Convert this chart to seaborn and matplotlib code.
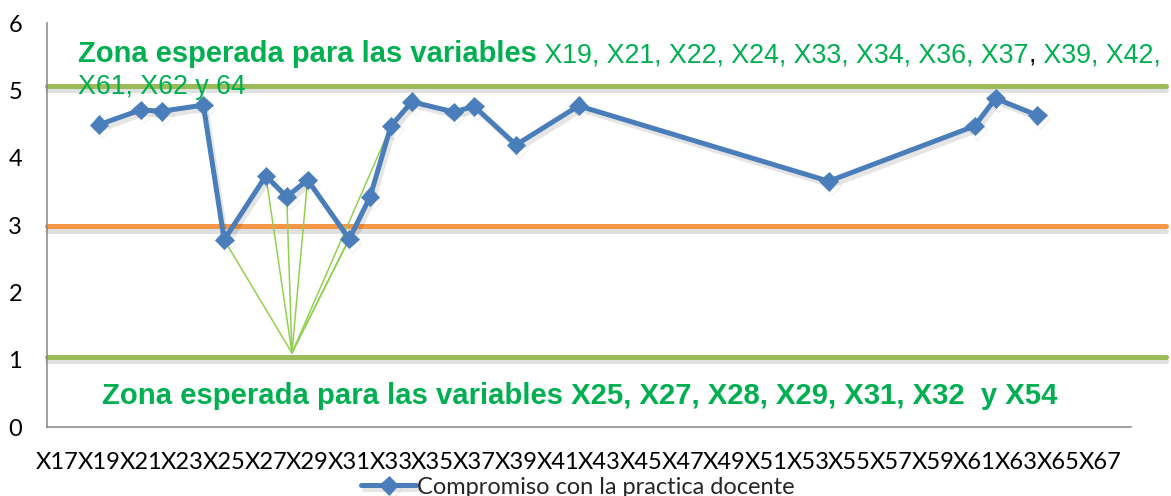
import matplotlib
matplotlib.use("Agg")
import matplotlib.pyplot as plt
import matplotlib.patheffects as pe
import seaborn as sns
import pandas as pd

# ---------------- data ----------------
categories = ["X17", "X18", "X19", "X20", "X21", "X22", "X23", "X24", "X25", "X26",
              "X27", "X28", "X29", "X30", "X31", "X32", "X33", "X34", "X35", "X36",
              "X37", "X38", "X39", "X40", "X41", "X42", "X43", "X44", "X45", "X46",
              "X47", "X48", "X49", "X50", "X51", "X52", "X53", "X54", "X55", "X56",
              "X57", "X58", "X59", "X60", "X61", "X62", "X63", "X64", "X65", "X66",
              "X67", "X68"]
tick_labels = categories[::2]

point_vars = ["X19", "X21", "X22", "X24", "X25", "X27", "X28", "X29", "X31", "X32",
              "X33", "X34", "X36", "X37", "X39", "X42", "X54", "X61", "X62", "X64"]
values = [4.49, 4.71, 4.69, 4.78, 2.78, 3.73, 3.42, 3.67, 2.79, 3.42,
          4.47, 4.83, 4.68, 4.76, 4.19, 4.77, 3.65, 4.47, 4.88, 4.63]
series_name = "Compromiso con la practica docente"

zone_upper = 5.07
zone_mid = 2.98
zone_lower = 1.04

linked_vars = ["X25", "X27", "X28", "X29", "X31", "X32", "X33"]
fan_origin_cat = 11.25
fan_origin_y = 1.10

top_bold = "Zona esperada para las variables"
top_regular = " X19, X21, X22, X24, X33, X34, X36, X37"
top_black = ","
top_regular2 = " X39, X42,"
top_line2 = "X61, X62 y 64"
bottom_text = "Zona esperada para las variables X25, X27, X28, X29, X31, X32  y X54"

# ---------------- style ----------------
sns.set_style("white")
plt.rcParams["font.family"] = ["Lato", "DejaVu Sans"]

W, H = 1171, 496
fig = plt.figure(figsize=(W / 100, H / 100), dpi=100)
ax = fig.add_axes([47 / W, 1 - 427 / H, (1131 - 47) / W, (427 - 23) / H])

df = pd.DataFrame({
    "pos": [categories.index(v) for v in point_vars],
    "value": values,
})

blue = "#4A7EBB"
green_line = "#9BBB59"
orange_line = "#F79646"
text_green = "#00B050"
fan_green = "#92D050"

# horizontal zone lines (extend beyond the axes to the right, like drawn shapes)
for yv, col in [(zone_upper, green_line), (zone_mid, orange_line), (zone_lower, green_line)]:
    ax.axhline(yv, xmin=0, xmax=(1166 - 47) / (1131 - 47), color=col, lw=3.6,
               clip_on=False, zorder=2,
               path_effects=[pe.SimpleLineShadow(offset=(0, -3), shadow_color="black", alpha=0.12),
                             pe.Normal()])

# fan lines
for v in linked_vars:
    i = point_vars.index(v)
    ax.plot([fan_origin_cat, categories.index(v)], [fan_origin_y, values[i]],
            color=fan_green, lw=1.1, zorder=3)

sns.lineplot(data=df, x="pos", y="value", ax=ax, color=blue, lw=3.6,
             marker="D", markersize=9.5, markeredgecolor=blue, markeredgewidth=0.5,
             label=series_name, zorder=4)
line = ax.lines[-1]
line.set_path_effects([pe.SimpleLineShadow(offset=(2, -3), shadow_color="black", alpha=0.1),
                       pe.Normal()])

ax.set_xlim(-0.5, len(categories) - 0.5)
ax.set_ylim(0, 6)
ax.set_xticks(range(0, len(categories), 2))
ax.set_xticklabels(tick_labels)
ax.set_yticks(range(0, 7))
ax.set_xlabel("")
ax.set_ylabel("")
ax.tick_params(axis="both", length=0, labelsize=17, colors="black")
ax.tick_params(axis="y", pad=18)
ax.tick_params(axis="x", pad=18)
for s in ["top", "right"]:
    ax.spines[s].set_visible(False)
for s in ["left", "bottom"]:
    ax.spines[s].set_color("#868686")
    ax.spines[s].set_linewidth(1.1)

handles, labels = ax.get_legend_handles_labels()
if ax.get_legend() is not None:
    ax.get_legend().remove()
leg = fig.legend(handles, labels, loc="center", bbox_to_anchor=(578 / W, 1 - 487 / H),
                 frameon=False, fontsize=17, handlelength=2.3, handletextpad=0.05,
                 borderpad=0, borderaxespad=0)

# overlay texts
tfont = ["Liberation Sans", "DejaVu Sans"]
t1 = fig.text(78 / W, 1 - 62.5 / H, top_bold, fontsize=21, fontweight="bold",
              color=text_green, family=tfont, va="baseline", ha="left")
t2 = ax.annotate(top_regular, xy=(1, 0), xycoords=t1, fontsize=19.3, color=text_green,
                 family=tfont, va="bottom", ha="left")
t3 = ax.annotate(top_black, xy=(1, 0), xycoords=t2, fontsize=19.3, color="black",
                 family=tfont, va="bottom", ha="left")
t4 = ax.annotate(top_regular2, xy=(1, 0), xycoords=t3, fontsize=19.3, color=text_green,
                 family=tfont, va="bottom", ha="left")
fig.text(78 / W, 1 - 94 / H, top_line2, fontsize=19.3, color=text_green, family=tfont,
         va="baseline", ha="left")
fig.text(102 / W, 1 - 404 / H, bottom_text, fontsize=21.1, fontweight="bold",
         color=text_green, family=tfont, va="baseline", ha="left")

fig.savefig("out.png", dpi=100, facecolor="white")
